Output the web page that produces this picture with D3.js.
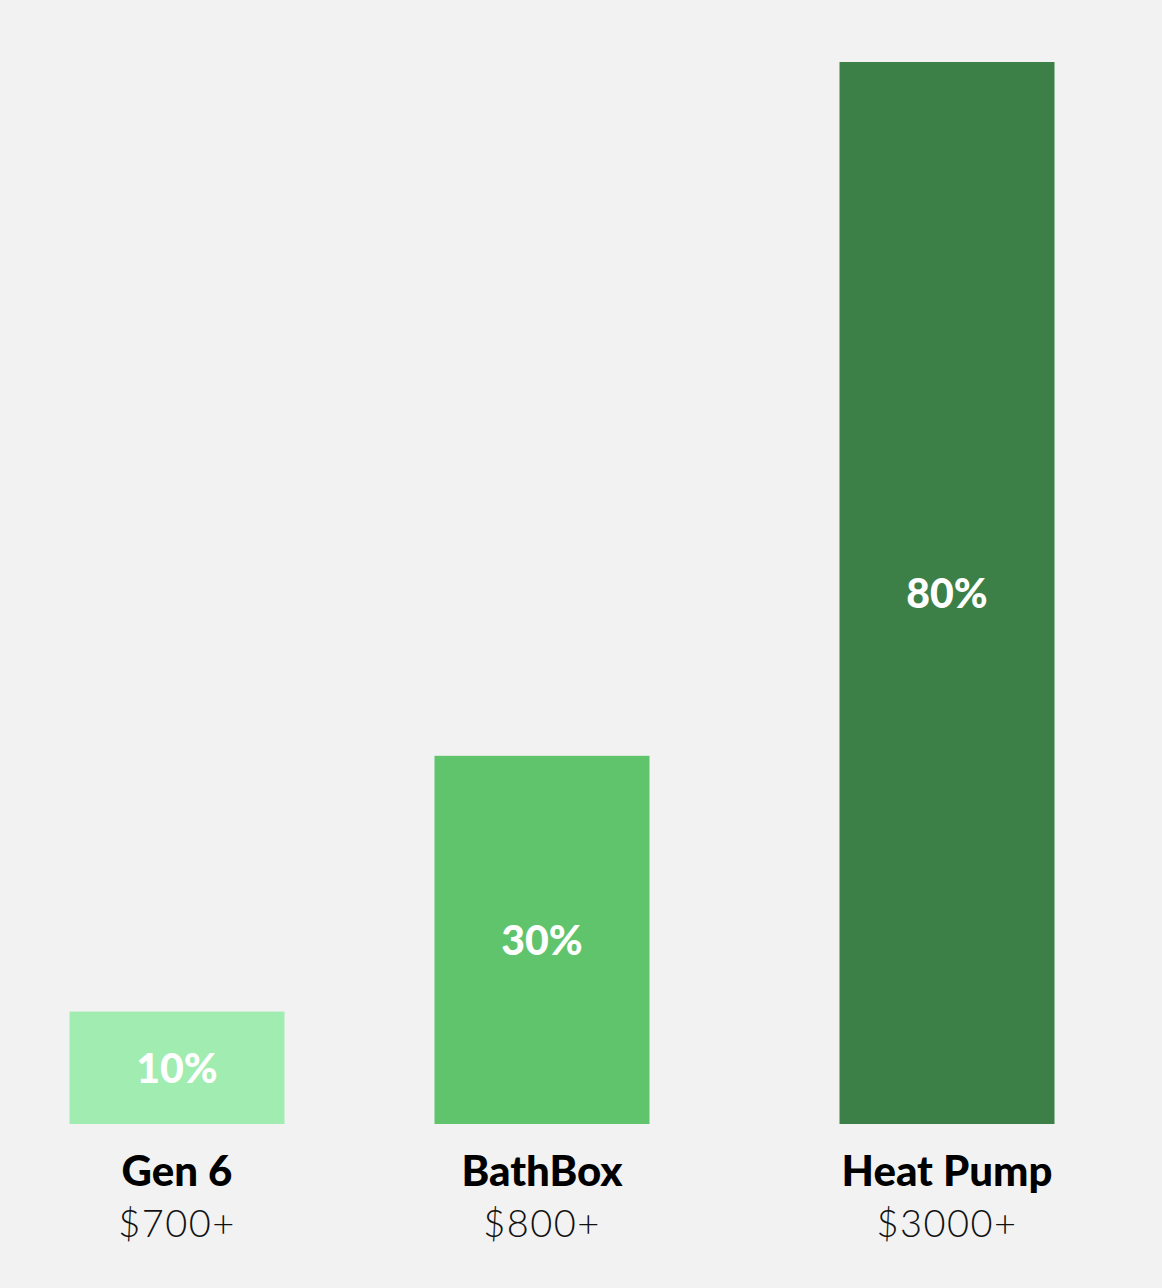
<!DOCTYPE html>
<html>
<head>
<meta charset="utf-8">
<script src="https://cdn.jsdelivr.net/npm/d3@7"></script>
<style>
  html, body { margin: 0; padding: 0; background: #f2f2f2; }
  svg { display: block; }
</style>
</head>
<body>
<svg id="chart"></svg>
<script>
// data
const categories = ["Gen 6", "BathBox", "Heat Pump"];
const prices = ["$700+", "$800+", "$3000+"];
const shares = [10, 30, 80];
const colors = ["#a1ecb0", "#5fc46b", "#3d8047"];

const width = 1162;
const height = 1288;
const baseY = 1124;
const barW = 215;

const svg = d3.select("#chart").attr("width", width).attr("height", height);

svg.append("rect")
  .attr("width", width)
  .attr("height", height)
  .attr("fill", "#f2f2f2");

// bar centres are not evenly spaced in the original
const x = d3.scaleOrdinal().domain(categories).range([177, 542, 947]);

// bars grow a bit faster than linear in the original
const y = d3.scalePow().exponent(1.08).domain([0, 80]).range([baseY, 62]);

const g = svg.append("g");

g.selectAll("rect.bar")
  .data(shares)
  .enter()
  .append("rect")
  .attr("class", "bar")
  .attr("x", function (d, i) { return x(categories[i]) - barW / 2; })
  .attr("y", function (d) { return y(d); })
  .attr("width", barW)
  .attr("height", function (d) { return baseY - y(d); })
  .attr("fill", function (d, i) { return colors[i]; });

// value labels
g.selectAll("text.val")
  .data(shares)
  .enter()
  .append("text")
  .attr("class", "val")
  .attr("x", function (d, i) { return x(categories[i]); })
  .attr("y", function (d) { return (y(d) + baseY) / 2; })
  .attr("dy", "0.36em")
  .attr("text-anchor", "middle")
  .attr("fill", "#ffffff")
  .style("font-family", "Lato, 'Open Sans', sans-serif")
  .style("font-weight", 900)
  .style("font-size", "41px")
  .text(function (d) { return d + "%"; });

// category names
g.selectAll("text.cat")
  .data(categories)
  .enter()
  .append("text")
  .attr("class", "cat")
  .attr("x", function (d) { return x(d); })
  .attr("y", 1186)
  .attr("text-anchor", "middle")
  .attr("fill", "#000000")
  .style("font-family", "Lato, 'Open Sans', sans-serif")
  .style("font-weight", 900)
  .style("font-size", "42px")
  .text(function (d) { return d; });

// prices
g.selectAll("text.price")
  .data(prices)
  .enter()
  .append("text")
  .attr("class", "price")
  .attr("x", function (d, i) { return x(categories[i]); })
  .attr("y", 1237)
  .attr("text-anchor", "middle")
  .attr("fill", "#111111")
  .style("font-family", "Lato, 'Open Sans', sans-serif")
  .style("font-weight", 300)
  .style("font-size", "38px")
  .style("letter-spacing", "1.5px")
  .text(function (d) { return d; });
</script>
</body>
</html>
